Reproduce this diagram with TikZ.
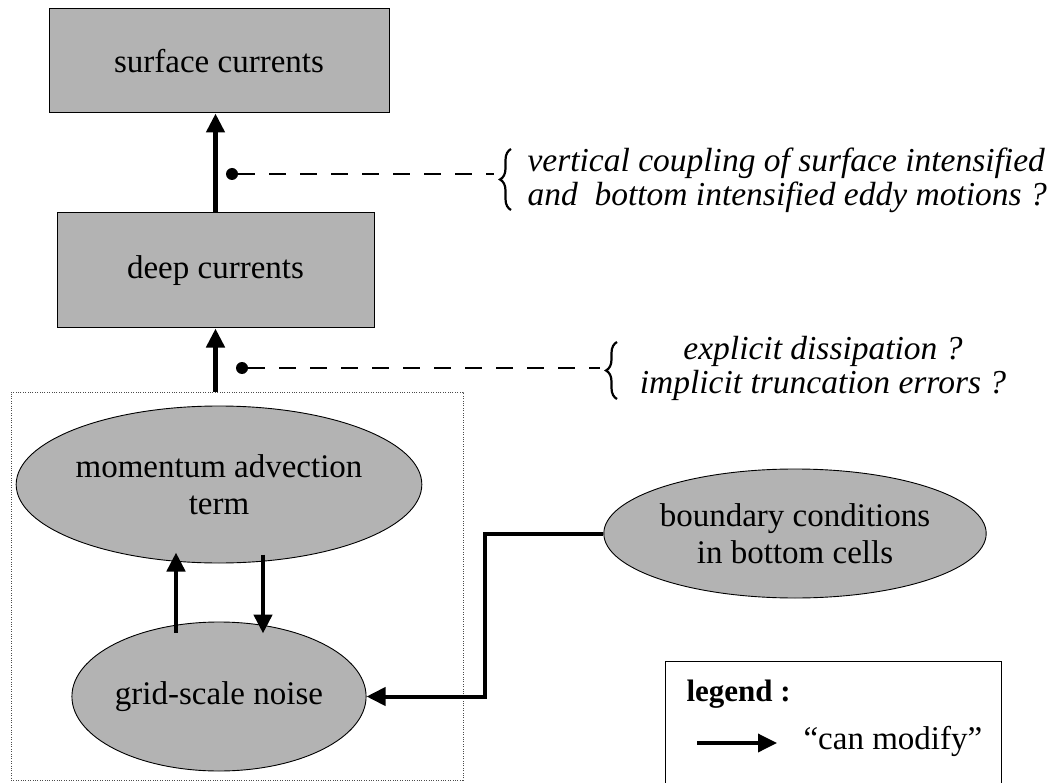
\documentclass[tikz,border=0pt]{standalone}
\usepackage{fontspec}
\setmainfont{Liberation Serif}
\usetikzlibrary{arrows.meta,shapes.geometric,decorations.pathreplacing,calc}
\definecolor{boxgray}{RGB}{179,179,179}
\begin{document}
\begin{tikzpicture}[x=1pt,y=-1pt,
  every node/.style={font=\fontsize{33}{37}\selectfont},
  rbox/.style={draw,fill=boxgray,line width=1pt,inner sep=0pt},
  ebox/.style={ellipse,draw,fill=boxgray,line width=0.9pt,inner sep=0pt,align=center},
  arr/.style={line width=4.6pt,-{Triangle[length=19pt,width=18pt]}},
  dotnode/.style={circle,fill=black,minimum size=12pt,inner sep=0pt},
  dashline/.style={line width=1.3pt,dash pattern=on 17pt off 14pt},
  bracestyle/.style={line width=2.2pt,decorate,decoration={brace,amplitude=11pt}},
  note/.style={font=\fontsize{33.5}{34}\selectfont\itshape}
]
\useasboundingbox (0,0) rectangle (1054,783);
\fill[white] (0,0) rectangle (1054,783);

% main boxes
\node[rbox,minimum width=340pt,minimum height=104pt] (surf) at (219,61) {surface currents};
\node[rbox,minimum width=317pt,minimum height=115pt] (deep) at (215.5,270.5) {deep currents};

% dotted group box
\node[draw,draw=black!70,line width=0.8pt,dash pattern=on 1pt off 1.4pt,inner sep=0pt,
      minimum width=452pt,minimum height=388pt] (grp) at (237,586) {};

% ellipses
\node[ebox,minimum width=376pt,minimum height=157pt] (mom) at (219,484.5) {momentum advection\\term};
\node[ebox,minimum width=268pt,minimum height=149pt] (grid) at (219,696.5) {grid-scale noise};
\node[ebox,minimum width=374pt,minimum height=129pt] (bc) at (795,533.5) {boundary conditions\\in bottom cells};

% vertical arrows
\draw[arr] (deep.north) -- (deep.north |- surf.south);
\draw[arr] (deep.south |- grp.north) -- (deep.south);

% loops between ellipses
\draw[arr] ($(grid.center)+(-43,-64)$) -- ($(mom.center)+(-43,68)$);
\draw[arr] ($(mom.center)+(44,70)$) -- ($(grid.center)+(44,-63)$);

% boundary conditions connector
\draw[arr,line width=4pt] (bc.west) -- ++(-118,0) |- (grid.east);

% annotation 1
\node[dotnode] (d1) at (232,174) {};
\coordinate (b1) at (494,174);
\draw[dashline] (d1) -- (b1);
\coordinate (b1bot) at (511,210);
\coordinate (b1top) at (511,149);
\draw[bracestyle] (b1bot) -- (b1top);
\node[note,anchor=west,align=left] (t1) at (524,180) {vertical coupling of surface intensified\\and\ \ bottom intensified eddy motions ?};

% annotation 2
\node[dotnode] (d2) at (242,368) {};
\coordinate (b2) at (600,368);
\draw[dashline] (d2) -- (b2);
\coordinate (b2bot) at (617,399);
\coordinate (b2top) at (617,342);
\draw[bracestyle] (b2bot) -- (b2top);
\node[note,align=center] (t2) at (823,368) {explicit dissipation ?\\implicit truncation errors ?};

% legend
\draw[line width=0.9pt] (665,790) -- (665,661) -- (1001,661) -- (1001,790);
\node[anchor=west,font=\fontsize{31}{35}\selectfont\bfseries] (lg) at (683,694) {legend :};
\coordinate (la) at (697,743);
\coordinate (lb) at (777,743);
\draw[arr,line width=3.5pt] (la) -- (lb);
\node[anchor=west] (lt) at (800,741) {“can modify”};
\end{tikzpicture}
\end{document}
